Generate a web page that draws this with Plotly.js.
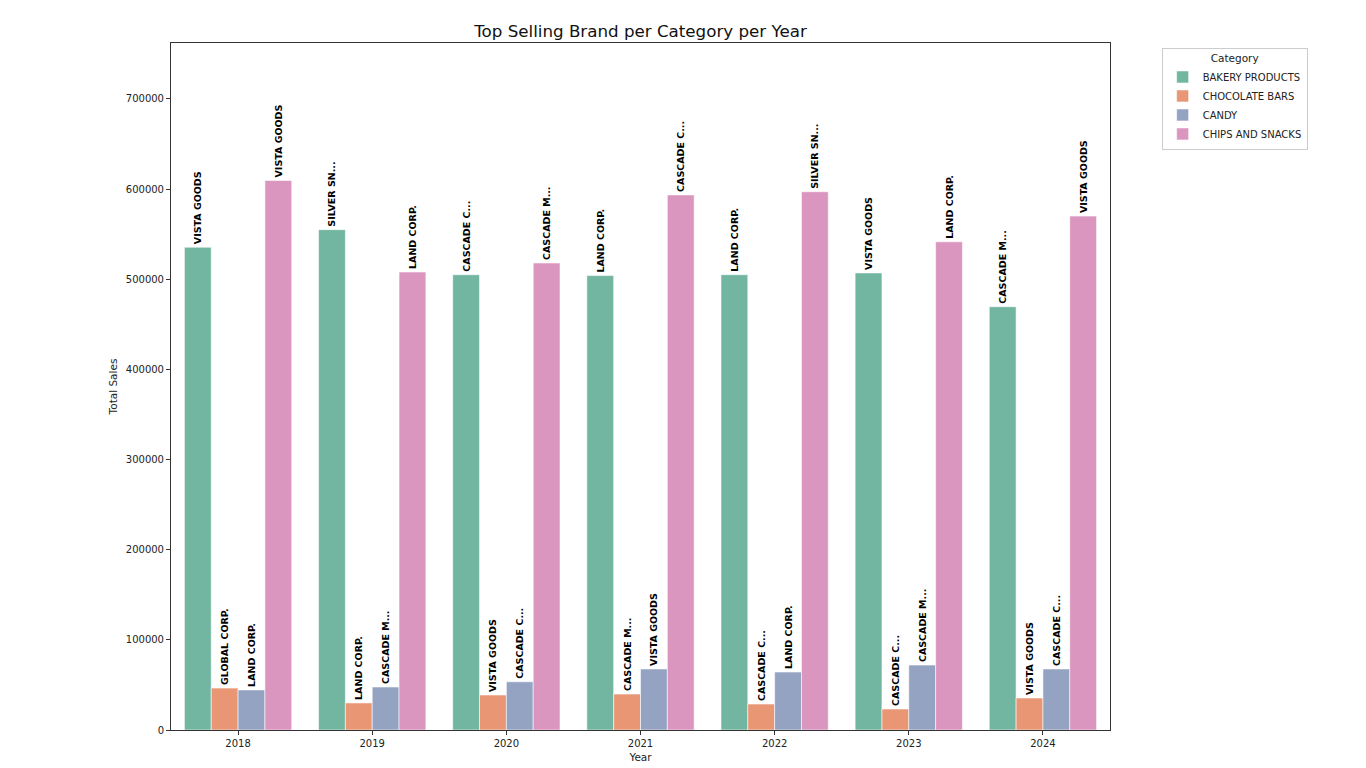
<!DOCTYPE html>
<html>
<head>
<meta charset="utf-8">
<script src="https://cdn.plot.ly/plotly-3.0.1.min.js"></script>
<style>html,body{margin:0;padding:0;background:#fff;}#chart{width:1366px;height:768px;}</style>
</head>
<body>
<div id="chart"></div>
<script>
const years = ["2018","2019","2020","2021","2022","2023","2024"];
const categories = ["BAKERY PRODUCTS","CHOCOLATE BARS","CANDY","CHIPS AND SNACKS"];
const colors = ["#72b6a1","#e99675","#95a3c3","#db96c0"];

const bakerySales = [535500, 555000, 505000, 504000, 505000, 507000, 469500];
const chocolateSales = [46500, 30000, 38800, 39900, 28800, 23300, 35500];
const candySales = [44500, 47700, 53500, 67700, 64300, 72000, 67700];
const chipsSales = [609500, 508000, 518000, 593500, 597000, 541500, 570000];

const bakeryBrands = ["VISTA GOODS","SILVER SN...","CASCADE C...","LAND CORP.","LAND CORP.","VISTA GOODS","CASCADE M..."];
const chocolateBrands = ["GLOBAL CORP.","LAND CORP.","VISTA GOODS","CASCADE M...","CASCADE C...","CASCADE C...","VISTA GOODS"];
const candyBrands = ["LAND CORP.","CASCADE M...","CASCADE C...","VISTA GOODS","LAND CORP.","CASCADE M...","CASCADE C..."];
const chipsBrands = ["VISTA GOODS","LAND CORP.","CASCADE M...","CASCADE C...","SILVER SN...","LAND CORP.","VISTA GOODS"];

const yTicks = [0,100000,200000,300000,400000,500000,600000,700000];

const seriesValues = [bakerySales, chocolateSales, candySales, chipsSales];
const seriesBrands = [bakeryBrands, chocolateBrands, candyBrands, chipsBrands];

const FONT = "DejaVu Sans, sans-serif";

const traces = categories.map((c, i) => ({
  type: "bar",
  name: c,
  x: years,
  y: seriesValues[i],
  text: seriesBrands[i],
  textposition: "outside",
  textangle: -90,
  constraintext: "none",
  cliponaxis: false,
  textfont: {family: FONT, size: 9.5, color: "#000", weight: "bold"},
  marker: {color: colors[i], line: {color: "rgba(255,255,255,0.7)", width: 0.8}},
  hoverinfo: "x+y+name"
}));

const layout = {
  width: 1366,
  height: 768,
  margin: {l: 171, r: 256, t: 43, b: 38},
  paper_bgcolor: "#fff",
  plot_bgcolor: "#fff",
  font: {family: FONT, size: 10, color: "#222"},
  barmode: "group",
  bargap: 0.2,
  bargroupgap: 0,
  title: {
    text: "Top Selling Brand per Category per Year",
    font: {family: FONT, size: 16.7, color: "#111"},
    x: 0.5, xref: "paper", xanchor: "center",
    y: 1 - 31/768, yref: "container", yanchor: "middle"
  },
  xaxis: {
    type: "category",
    title: {text: "Year", font: {family: FONT, size: 10.5, color: "#222"}, standoff: 5},
    showline: true, linecolor: "#333", linewidth: 1, mirror: true,
    ticks: "outside", ticklen: 4, tickcolor: "#333",
    tickfont: {family: FONT, size: 10, color: "#222"},
    showgrid: false, zeroline: false
  },
  yaxis: {
    range: [0, 762000],
    tickvals: yTicks,
    ticktext: yTicks.map(v => String(v)),
    title: {text: "Total Sales", font: {family: FONT, size: 10.5, color: "#222"}, standoff: 6},
    showline: true, linecolor: "#333", linewidth: 1, mirror: true,
    ticks: "outside", ticklen: 4, tickcolor: "#333",
    tickfont: {family: FONT, size: 10, color: "#222"},
    showgrid: false, zeroline: false
  },
  legend: {
    title: {text: "Category", side: "top center", font: {family: FONT, size: 10.5, color: "#222"}},
    x: 1.055, xanchor: "left",
    y: 0.993, yanchor: "top",
    bgcolor: "#fff",
    bordercolor: "#ccc",
    borderwidth: 1,
    font: {family: FONT, size: 10, color: "#222"},
    tracegroupgap: 0,
    itemwidth: 30
  },
  showlegend: true
};

Plotly.newPlot("chart", traces, layout, {displayModeBar: false, staticPlot: true});
</script>
</body>
</html>
